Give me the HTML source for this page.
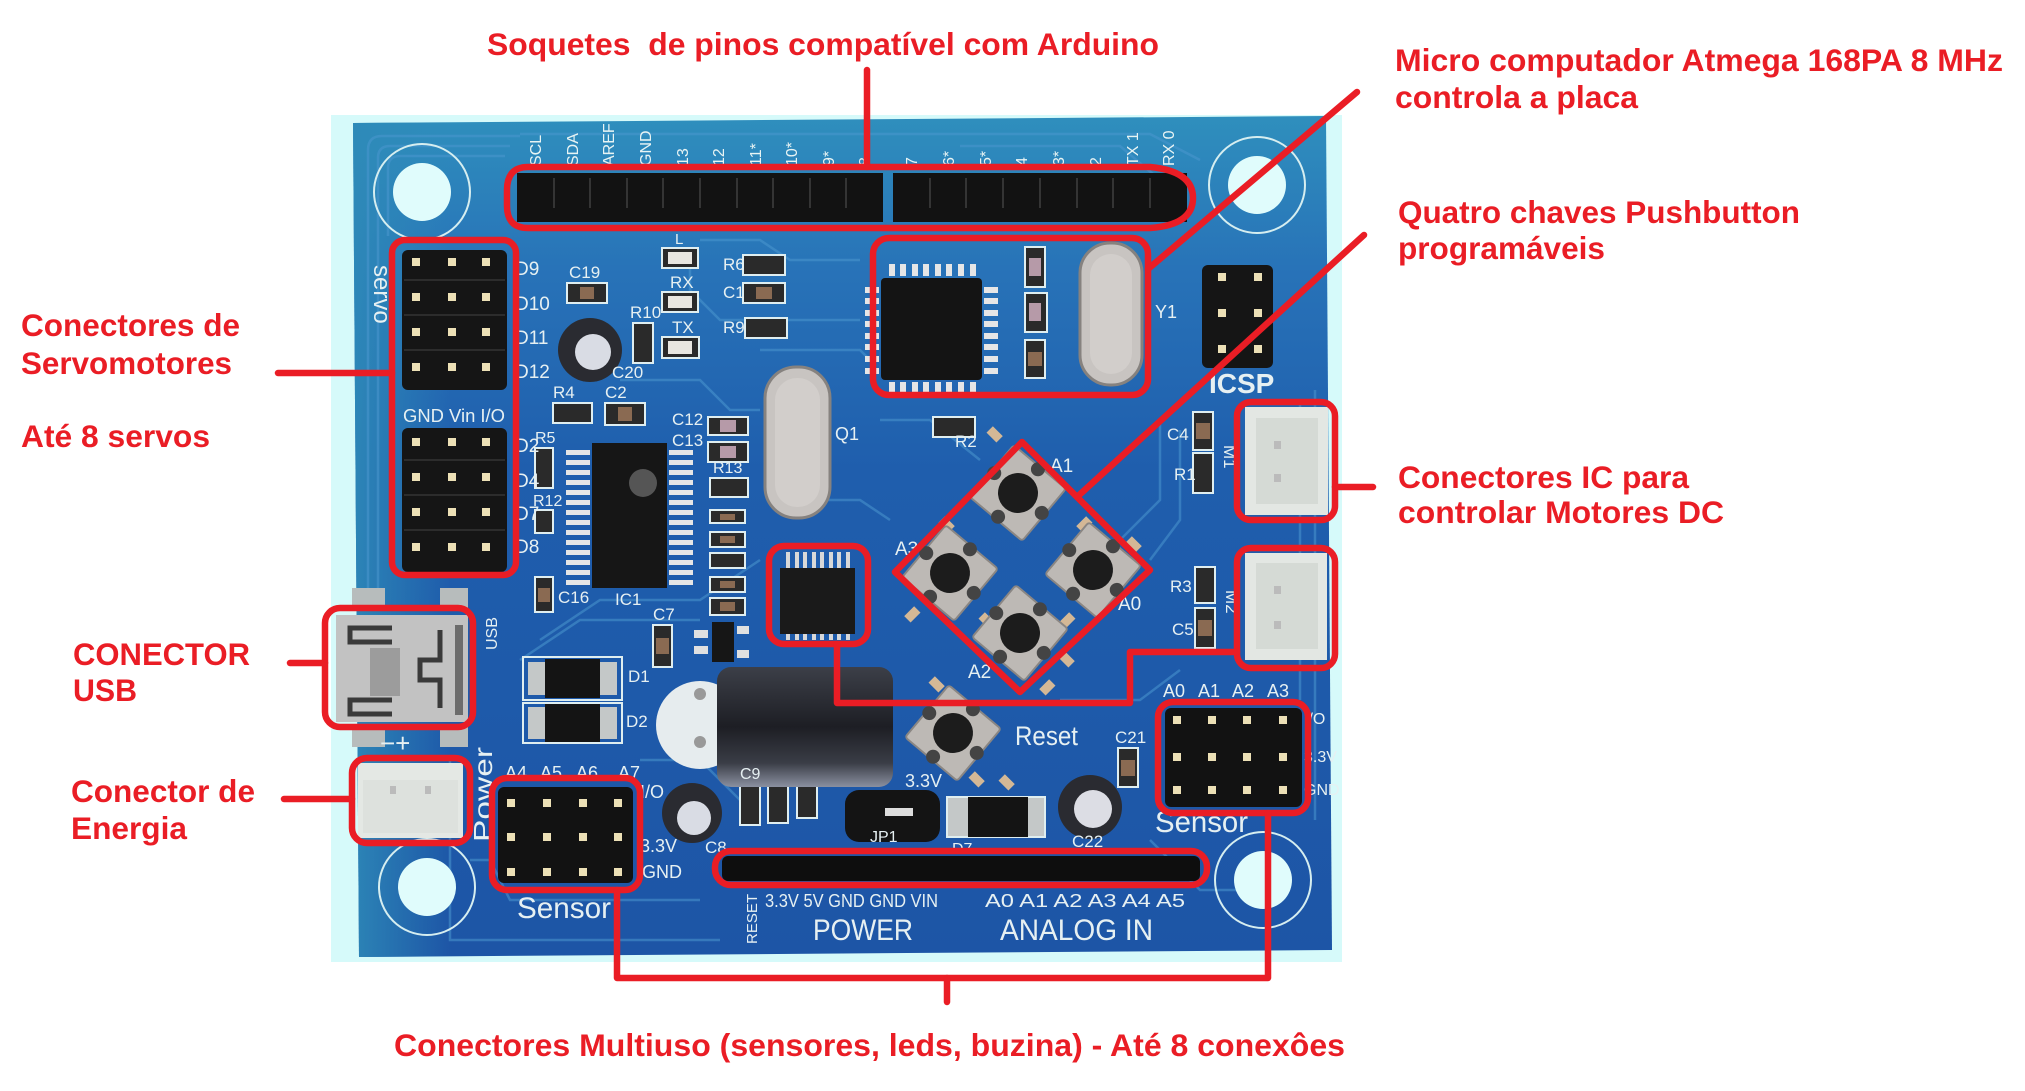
<!DOCTYPE html>
<html><head><meta charset="utf-8"><style>
html,body{margin:0;padding:0;background:#fff;}
svg{display:block;}
</style></head><body>
<svg width="2025" height="1091" viewBox="0 0 2025 1091" xmlns="http://www.w3.org/2000/svg">
<defs>
<linearGradient id="bv" x1="0" y1="0" x2="0" y2="1">
 <stop offset="0" stop-color="#2f8fbd"/>
 <stop offset="0.18" stop-color="#2873b8"/>
 <stop offset="0.42" stop-color="#1f5ead"/>
 <stop offset="1" stop-color="#1d55a6"/>
</linearGradient>
<linearGradient id="bh" x1="0" y1="0" x2="1" y2="0">
 <stop offset="0" stop-color="#2e8ab8" stop-opacity="0.9"/>
 <stop offset="0.1" stop-color="#2e8ab8" stop-opacity="0"/>
</linearGradient>
<linearGradient id="cap" x1="0" y1="0" x2="0" y2="1">
 <stop offset="0" stop-color="#3c3f48"/>
 <stop offset="0.5" stop-color="#1d1e24"/>
 <stop offset="0.8" stop-color="#3a3d46"/>
 <stop offset="1" stop-color="#8a90a0"/>
</linearGradient>
</defs>
<rect width="2025" height="1091" fill="#fff"/>
<rect x="331" y="115" width="1011" height="847" fill="#d6fafa"/>
<polygon points="353,123 1326,116 1332,950 359,957" fill="url(#bv)"/>
<polygon points="353,123 1326,116 1332,950 359,957" fill="url(#bh)"/>

<!-- traces -->
<g fill="none" stroke="#4b97cf" stroke-width="2.5" opacity="0.55">
<path d="M368 600 V150 Q368 136 382 136 H520"/>
<path d="M378 600 V158 Q378 146 390 146 H510"/>
<path d="M388 236 V168 Q388 156 400 156 H505"/>
<path d="M520 134 H1150 L1200 160"/>
<path d="M960 146 H1120 L1160 180"/>
<path d="M700 240 H760 L790 260 H860"/>
<path d="M690 255 V290 L720 320 H860"/>
<path d="M760 350 H860 L875 365"/>
<path d="M620 380 H700 L730 410 H760"/>
<path d="M540 640 L600 600 H700 L760 560"/>
<path d="M520 660 L580 620 H700"/>
<path d="M1160 420 V500 L1120 540"/>
<path d="M1180 430 V520 L1150 560"/>
<path d="M880 420 H930 L980 460"/>
<path d="M1060 700 H1140 L1180 670"/>
<path d="M890 520 L860 500 H800"/>
<path d="M640 760 H700 L740 800"/>
<path d="M1150 840 L1200 890 H1240"/>
<path d="M1300 400 V700"/>
<path d="M1315 390 V820"/>
<path d="M470 860 H490 L510 900 H700"/>
<path d="M450 760 V940 H720"/>
</g>

<!-- mounting holes -->
<g>
<circle cx="422" cy="192" r="48" fill="none" stroke="#d6eef0" stroke-width="2"/>
<circle cx="422" cy="192" r="29" fill="#e0fcfc"/>
<circle cx="1257" cy="185" r="48" fill="none" stroke="#d6eef0" stroke-width="2"/>
<circle cx="1257" cy="185" r="29" fill="#e0fcfc"/>
<circle cx="427" cy="887" r="48" fill="none" stroke="#d6eef0" stroke-width="2"/>
<circle cx="427" cy="887" r="29" fill="#e0fcfc"/>
<circle cx="1263" cy="880" r="48" fill="none" stroke="#d6eef0" stroke-width="2"/>
<circle cx="1263" cy="880" r="29" fill="#e0fcfc"/>
</g>

<!-- top header -->
<rect x="517" y="173" width="366" height="49" fill="#121212"/>
<rect x="893" y="173" width="294" height="49" fill="#121212"/>
<g stroke="#343434" stroke-width="2">
<path d="M554 178V208M590 178V208M627 178V208M663 178V208M700 178V208M737 178V208M773 178V208M810 178V208M846 178V208"/>
<path d="M930 178V208M966 178V208M1003 178V208M1040 178V208M1077 178V208M1113 178V208M1150 178V208"/>
</g>
<g fill="#e8f4f4" font-family="Liberation Sans, sans-serif" font-size="16">
<text transform="translate(541,166) rotate(-90)">SCL</text>
<text transform="translate(578,166) rotate(-90)">SDA</text>
<text transform="translate(614,166) rotate(-90)">AREF</text>
<text transform="translate(651,166) rotate(-90)">GND</text>
<text transform="translate(688,166) rotate(-90)">13</text>
<text transform="translate(724,166) rotate(-90)">12</text>
<text transform="translate(761,166) rotate(-90)">11*</text>
<text transform="translate(797,166) rotate(-90)">10*</text>
<text transform="translate(834,166) rotate(-90)">9*</text>
<text transform="translate(870,166) rotate(-90)">8</text>
<text transform="translate(917,166) rotate(-90)">7</text>
<text transform="translate(954,166) rotate(-90)">6*</text>
<text transform="translate(991,166) rotate(-90)">5*</text>
<text transform="translate(1027,166) rotate(-90)">4</text>
<text transform="translate(1064,166) rotate(-90)">3*</text>
<text transform="translate(1101,166) rotate(-90)">2</text>
<text transform="translate(1138,166) rotate(-90)">TX 1</text>
<text transform="translate(1174,166) rotate(-90)">RX 0</text>
</g>

<!-- servo headers -->
<rect x="402" y="250" width="105" height="140" rx="6" fill="#151515"/>
<rect x="402" y="428" width="105" height="144" rx="6" fill="#151515"/>
<g stroke="#2c2c2c" stroke-width="2"><path d="M404 280H505M404 315H505M404 350H505M404 460H505M404 495H505M404 530H505"/></g>
<g fill="#ece0b6">
<rect x="412" y="258" width="8" height="8"/><rect x="448" y="258" width="8" height="8"/><rect x="482" y="258" width="8" height="8"/>
<rect x="412" y="293" width="8" height="8"/><rect x="448" y="293" width="8" height="8"/><rect x="482" y="293" width="8" height="8"/>
<rect x="412" y="328" width="8" height="8"/><rect x="448" y="328" width="8" height="8"/><rect x="482" y="328" width="8" height="8"/>
<rect x="412" y="363" width="8" height="8"/><rect x="448" y="363" width="8" height="8"/><rect x="482" y="363" width="8" height="8"/>
<rect x="412" y="438" width="8" height="8"/><rect x="448" y="438" width="8" height="8"/><rect x="482" y="438" width="8" height="8"/>
<rect x="412" y="473" width="8" height="8"/><rect x="448" y="473" width="8" height="8"/><rect x="482" y="473" width="8" height="8"/>
<rect x="412" y="508" width="8" height="8"/><rect x="448" y="508" width="8" height="8"/><rect x="482" y="508" width="8" height="8"/>
<rect x="412" y="543" width="8" height="8"/><rect x="448" y="543" width="8" height="8"/><rect x="482" y="543" width="8" height="8"/>
</g>

<!-- small SMD parts -->
<g stroke="#dfeef0" stroke-width="2" fill="#2a2a2a">
<rect x="567" y="283" width="40" height="20"/>
<rect x="662" y="248" width="36" height="20"/>
<rect x="662" y="292" width="36" height="20"/>
<rect x="662" y="337" width="37" height="21"/>
<rect x="743" y="255" width="42" height="20"/>
<rect x="743" y="283" width="42" height="20"/>
<rect x="745" y="318" width="42" height="20"/>
<rect x="633" y="323" width="20" height="40"/>
<rect x="553" y="403" width="39" height="20"/>
<rect x="605" y="403" width="40" height="22"/>
<rect x="708" y="417" width="40" height="18"/>
<rect x="708" y="442" width="40" height="20"/>
<rect x="710" y="478" width="38" height="19"/>
<rect x="535" y="448" width="18" height="40"/>
<rect x="535" y="510" width="18" height="23"/>
<rect x="710" y="510" width="35" height="13"/>
<rect x="710" y="532" width="35" height="15"/>
<rect x="710" y="553" width="35" height="15"/>
<rect x="710" y="577" width="35" height="15"/>
<rect x="710" y="598" width="35" height="17"/>
<rect x="653" y="625" width="19" height="42"/>
<rect x="535" y="577" width="18" height="35"/>
<rect x="1025" y="247" width="20" height="40"/>
<rect x="1025" y="293" width="22" height="39"/>
<rect x="1025" y="340" width="20" height="38"/>
<rect x="933" y="417" width="42" height="20"/>
<rect x="1193" y="412" width="20" height="38"/>
<rect x="1193" y="453" width="20" height="40"/>
<rect x="1195" y="567" width="20" height="36"/>
<rect x="1195" y="608" width="20" height="40"/>
<rect x="1118" y="748" width="20" height="39"/>
<rect x="740" y="783" width="20" height="42"/>
<rect x="768" y="783" width="20" height="40"/>
<rect x="797" y="783" width="20" height="35"/>
</g>
<g fill="#8a6a52">
<rect x="580" y="287" width="14" height="12"/><rect x="618" y="407" width="14" height="14"/>
<rect x="756" y="287" width="16" height="12"/><rect x="720" y="514" width="15" height="6"/>
<rect x="720" y="536" width="15" height="7"/><rect x="720" y="581" width="15" height="7"/>
<rect x="720" y="602" width="15" height="9"/><rect x="656" y="638" width="13" height="16"/>
<rect x="538" y="588" width="12" height="14"/><rect x="1028" y="352" width="14" height="14"/>
<rect x="1196" y="423" width="14" height="16"/><rect x="1198" y="620" width="14" height="16"/>
<rect x="1121" y="760" width="14" height="16"/><rect x="578" y="286" width="0" height="0"/>
</g>
<g fill="#b69aa8"><rect x="720" y="420" width="16" height="12"/><rect x="720" y="446" width="16" height="12"/><rect x="1029" y="258" width="12" height="18"/><rect x="1029" y="303" width="12" height="18"/></g>
<g fill="#e8e6e0"><rect x="668" y="252" width="24" height="12"/><rect x="668" y="296" width="24" height="12"/><rect x="668" y="341" width="24" height="13"/></g>

<!-- C20, C8, C22 electrolytics -->
<circle cx="590" cy="350" r="32" fill="#2a2b31"/><circle cx="593" cy="352" r="18" fill="#d9dce4"/>
<circle cx="692" cy="813" r="30" fill="#2a2b31"/><circle cx="694" cy="818" r="17" fill="#d9dce4"/>
<circle cx="1090" cy="807" r="32" fill="#2a2b31"/><circle cx="1093" cy="809" r="19" fill="#dcdde4"/>

<!-- IC1 -->
<rect x="592" y="443" width="75" height="145" fill="#161616"/>
<g fill="#e6e6e6">
<rect x="566" y="450" width="24" height="5"/><rect x="566" y="460" width="24" height="5"/><rect x="566" y="470" width="24" height="5"/><rect x="566" y="480" width="24" height="5"/><rect x="566" y="490" width="24" height="5"/><rect x="566" y="500" width="24" height="5"/><rect x="566" y="510" width="24" height="5"/><rect x="566" y="520" width="24" height="5"/><rect x="566" y="530" width="24" height="5"/><rect x="566" y="540" width="24" height="5"/><rect x="566" y="550" width="24" height="5"/><rect x="566" y="560" width="24" height="5"/><rect x="566" y="570" width="24" height="5"/><rect x="566" y="580" width="24" height="5"/>
<rect x="669" y="450" width="24" height="5"/><rect x="669" y="460" width="24" height="5"/><rect x="669" y="470" width="24" height="5"/><rect x="669" y="480" width="24" height="5"/><rect x="669" y="490" width="24" height="5"/><rect x="669" y="500" width="24" height="5"/><rect x="669" y="510" width="24" height="5"/><rect x="669" y="520" width="24" height="5"/><rect x="669" y="530" width="24" height="5"/><rect x="669" y="540" width="24" height="5"/><rect x="669" y="550" width="24" height="5"/><rect x="669" y="560" width="24" height="5"/><rect x="669" y="570" width="24" height="5"/><rect x="669" y="580" width="24" height="5"/>
</g>
<circle cx="643" cy="483" r="14" fill="#555"/>

<!-- crystals -->
<rect x="765" y="367" width="65" height="151" rx="31" fill="#c8c4c1" stroke="#86827f" stroke-width="3"/>
<rect x="775" y="378" width="45" height="129" rx="22" fill="#d2cecb"/>
<rect x="1080" y="243" width="62" height="142" rx="30" fill="#c8c4c1" stroke="#86827f" stroke-width="3"/>
<rect x="1090" y="254" width="42" height="120" rx="21" fill="#d2cecb"/>

<!-- Atmega -->
<rect x="881" y="278" width="101" height="102" rx="4" fill="#141414"/>
<g fill="#e6e6e6">
<rect x="889" y="264" width="6" height="12"/><rect x="900" y="264" width="6" height="12"/><rect x="912" y="264" width="6" height="12"/><rect x="923" y="264" width="6" height="12"/><rect x="935" y="264" width="6" height="12"/><rect x="946" y="264" width="6" height="12"/><rect x="958" y="264" width="6" height="12"/><rect x="970" y="264" width="6" height="12"/>
<rect x="889" y="382" width="6" height="12"/><rect x="900" y="382" width="6" height="12"/><rect x="912" y="382" width="6" height="12"/><rect x="923" y="382" width="6" height="12"/><rect x="935" y="382" width="6" height="12"/><rect x="946" y="382" width="6" height="12"/><rect x="958" y="382" width="6" height="12"/><rect x="970" y="382" width="6" height="12"/>
<rect x="865" y="287" width="14" height="6"/><rect x="865" y="298" width="14" height="6"/><rect x="865" y="310" width="14" height="6"/><rect x="865" y="321" width="14" height="6"/><rect x="865" y="333" width="14" height="6"/><rect x="865" y="344" width="14" height="6"/><rect x="865" y="356" width="14" height="6"/><rect x="865" y="368" width="14" height="6"/>
<rect x="984" y="287" width="14" height="6"/><rect x="984" y="298" width="14" height="6"/><rect x="984" y="310" width="14" height="6"/><rect x="984" y="321" width="14" height="6"/><rect x="984" y="333" width="14" height="6"/><rect x="984" y="344" width="14" height="6"/><rect x="984" y="356" width="14" height="6"/><rect x="984" y="368" width="14" height="6"/>
</g>

<!-- ICSP -->
<rect x="1202" y="265" width="71" height="103" rx="6" fill="#151515"/>
<g fill="#ece0b6"><rect x="1218" y="273" width="8" height="8"/><rect x="1254" y="273" width="8" height="8"/><rect x="1218" y="309" width="8" height="8"/><rect x="1254" y="309" width="8" height="8"/><rect x="1218" y="345" width="8" height="8"/><rect x="1254" y="345" width="8" height="8"/></g>

<!-- 52G chip -->
<rect x="780" y="568" width="75" height="66" fill="#1a1a1a"/>
<g fill="#d8d8d8"><rect x="786" y="552" width="4" height="16"/><rect x="795" y="552" width="4" height="16"/><rect x="803" y="552" width="4" height="16"/><rect x="812" y="552" width="4" height="16"/><rect x="820" y="552" width="4" height="16"/><rect x="829" y="552" width="4" height="16"/><rect x="837" y="552" width="4" height="16"/><rect x="846" y="552" width="4" height="16"/>
<rect x="786" y="634" width="4" height="6"/><rect x="795" y="634" width="4" height="6"/><rect x="803" y="634" width="4" height="6"/><rect x="812" y="634" width="4" height="6"/><rect x="820" y="634" width="4" height="6"/><rect x="829" y="634" width="4" height="6"/><rect x="837" y="634" width="4" height="6"/><rect x="846" y="634" width="4" height="6"/></g>

<!-- small IC near C7 -->
<rect x="712" y="622" width="22" height="40" fill="#161616"/>
<g fill="#e0e0e0"><rect x="694" y="630" width="14" height="8"/><rect x="694" y="646" width="14" height="8"/><rect x="737" y="626" width="12" height="8"/><rect x="737" y="650" width="12" height="8"/></g>

<!-- D1 D2 -->
<rect x="523" y="657" width="99" height="43" fill="none" stroke="#dfeef0" stroke-width="2"/>
<rect x="523" y="703" width="99" height="40" fill="none" stroke="#dfeef0" stroke-width="2"/>
<rect x="528" y="662" width="89" height="33" fill="#c4c8c8"/><rect x="528" y="707" width="89" height="32" fill="#c4c8c8"/>
<rect x="545" y="659" width="55" height="39" fill="#141414"/><rect x="545" y="704" width="55" height="38" fill="#141414"/>

<!-- big electrolytic cap -->
<circle cx="700" cy="725" r="44" fill="#e6ecee"/>
<circle cx="700" cy="694" r="6" fill="#999"/><circle cx="700" cy="742" r="6" fill="#999"/>
<rect x="717" y="667" width="176" height="120" rx="14" fill="url(#cap)"/>

<!-- USB -->
<g fill="#b7bcbc"><rect x="352" y="588" width="33" height="22"/><rect x="440" y="588" width="28" height="22"/><rect x="352" y="727" width="33" height="20"/><rect x="440" y="727" width="28" height="20"/></g>
<rect x="336" y="615" width="132" height="107" fill="#c2c2c2"/>
<g fill="none" stroke="#3a3a3a" stroke-width="5">
<path d="M392 628H350V642H392"/><path d="M392 700H350V714H392"/>
<path d="M440 630V660H420V680H440V708"/>
</g>
<rect x="370" y="648" width="30" height="48" fill="#9c9c9c"/>
<g fill="#6c6c6c"><rect x="455" y="625" width="8" height="90"/></g>

<!-- power connector -->
<rect x="358" y="763" width="105" height="75" fill="#e4e8e4"/>
<rect x="363" y="780" width="95" height="53" fill="#dde1dd"/>
<rect x="390" y="786" width="6" height="8" fill="#bbb"/><rect x="425" y="786" width="6" height="8" fill="#bbb"/>

<!-- left sensor header -->
<rect x="498" y="787" width="135" height="96" rx="6" fill="#121212"/>
<g fill="#ece0b6">
<rect x="507" y="799" width="8" height="8"/><rect x="543" y="799" width="8" height="8"/><rect x="579" y="799" width="8" height="8"/><rect x="614" y="799" width="8" height="8"/>
<rect x="507" y="833" width="8" height="8"/><rect x="543" y="833" width="8" height="8"/><rect x="579" y="833" width="8" height="8"/><rect x="614" y="833" width="8" height="8"/>
<rect x="507" y="868" width="8" height="8"/><rect x="543" y="868" width="8" height="8"/><rect x="579" y="868" width="8" height="8"/><rect x="614" y="868" width="8" height="8"/>
</g>

<!-- right sensor header -->
<rect x="1165" y="708" width="137" height="99" rx="6" fill="#121212"/>
<g fill="#ece0b6">
<rect x="1173" y="716" width="8" height="8"/><rect x="1208" y="716" width="8" height="8"/><rect x="1243" y="716" width="8" height="8"/><rect x="1279" y="716" width="8" height="8"/>
<rect x="1173" y="753" width="8" height="8"/><rect x="1208" y="753" width="8" height="8"/><rect x="1243" y="753" width="8" height="8"/><rect x="1279" y="753" width="8" height="8"/>
<rect x="1173" y="786" width="8" height="8"/><rect x="1208" y="786" width="8" height="8"/><rect x="1243" y="786" width="8" height="8"/><rect x="1279" y="786" width="8" height="8"/>
</g>

<!-- JP1, D7 -->
<rect x="845" y="790" width="95" height="52" rx="14" fill="#141414"/>
<rect x="885" y="808" width="28" height="8" fill="#ddd"/>
<rect x="947" y="797" width="98" height="40" fill="#c4c8c8" stroke="#dfeef0" stroke-width="2"/>
<rect x="968" y="797" width="60" height="40" fill="#141414"/>

<!-- M1 M2 -->
<rect x="1245" y="407" width="83" height="108" fill="#e3e7e3"/>
<rect x="1256" y="418" width="62" height="86" fill="#d5dad5"/>
<rect x="1274" y="441" width="7" height="8" fill="#bbb"/><rect x="1274" y="474" width="7" height="8" fill="#bbb"/>
<rect x="1245" y="553" width="82" height="107" fill="#e3e7e3"/>
<rect x="1256" y="563" width="62" height="86" fill="#d5dad5"/>
<rect x="1274" y="586" width="7" height="8" fill="#bbb"/><rect x="1274" y="621" width="7" height="8" fill="#bbb"/>

<!-- power/analog header -->
<rect x="722" y="856" width="478" height="25" rx="6" fill="#0e0e0e"/>

<!-- buttons -->
<g fill="#d4b896">
<rect x="988" y="430" width="14" height="9" transform="rotate(45 995 434)"/>
<rect x="940" y="520" width="14" height="9" transform="rotate(45 947 524)"/>
<rect x="1077" y="520" width="14" height="9" transform="rotate(-45 1084 524)"/>
<rect x="1127" y="540" width="14" height="9" transform="rotate(45 1134 544)"/>
<rect x="905" y="610" width="14" height="9" transform="rotate(-45 912 614)"/>
<rect x="980" y="616" width="14" height="9" transform="rotate(45 987 620)"/>
<rect x="1060" y="616" width="14" height="9" transform="rotate(-45 1067 620)"/>
<rect x="1060" y="655" width="14" height="9" transform="rotate(45 1067 659)"/>
<rect x="1040" y="683" width="14" height="9" transform="rotate(-45 1047 687)"/>
<rect x="930" y="680" width="14" height="9" transform="rotate(45 937 684)"/>
<rect x="1000" y="778" width="14" height="9" transform="rotate(45 1007 782)"/>
<rect x="970" y="775" width="14" height="9" transform="rotate(45 977 779)"/>
</g>
<g id="btns">
<g transform="translate(1018,493) rotate(40)"><rect x="-34" y="-34" width="68" height="68" rx="3" fill="#bdb9b5" stroke="#8a8683" stroke-width="2"/><circle r="20" fill="#1c1c1c"/><circle cx="0" cy="-31" r="7" fill="#444"/><circle cx="0" cy="31" r="7" fill="#444"/><circle cx="-31" cy="0" r="7" fill="#444"/><circle cx="31" cy="0" r="7" fill="#444"/></g>
<g transform="translate(950,573) rotate(40)"><rect x="-34" y="-34" width="68" height="68" rx="3" fill="#bdb9b5" stroke="#8a8683" stroke-width="2"/><circle r="20" fill="#1c1c1c"/><circle cx="0" cy="-31" r="7" fill="#444"/><circle cx="0" cy="31" r="7" fill="#444"/><circle cx="-31" cy="0" r="7" fill="#444"/><circle cx="31" cy="0" r="7" fill="#444"/></g>
<g transform="translate(1093,570) rotate(40)"><rect x="-34" y="-34" width="68" height="68" rx="3" fill="#bdb9b5" stroke="#8a8683" stroke-width="2"/><circle r="20" fill="#1c1c1c"/><circle cx="0" cy="-31" r="7" fill="#444"/><circle cx="0" cy="31" r="7" fill="#444"/><circle cx="-31" cy="0" r="7" fill="#444"/><circle cx="31" cy="0" r="7" fill="#444"/></g>
<g transform="translate(1020,633) rotate(40)"><rect x="-34" y="-34" width="68" height="68" rx="3" fill="#bdb9b5" stroke="#8a8683" stroke-width="2"/><circle r="20" fill="#1c1c1c"/><circle cx="0" cy="-31" r="7" fill="#444"/><circle cx="0" cy="31" r="7" fill="#444"/><circle cx="-31" cy="0" r="7" fill="#444"/><circle cx="31" cy="0" r="7" fill="#444"/></g>
<g transform="translate(953,733) rotate(40)"><rect x="-34" y="-34" width="68" height="68" rx="3" fill="#bdb9b5" stroke="#8a8683" stroke-width="2"/><circle r="20" fill="#1c1c1c"/><circle cx="0" cy="-31" r="7" fill="#444"/><circle cx="0" cy="31" r="7" fill="#444"/><circle cx="-31" cy="0" r="7" fill="#444"/><circle cx="31" cy="0" r="7" fill="#444"/></g>
</g>

<!-- board silkscreen labels -->
<g fill="#e6f0f2" font-family="Liberation Sans, sans-serif">
<text transform="translate(374,265) rotate(90)" font-size="24">servo</text>
<text x="403" y="422" font-size="18" textLength="102" lengthAdjust="spacingAndGlyphs">GND Vin I/O</text>
<text x="515" y="275" font-size="19">D9</text>
<text x="515" y="310" font-size="19">D10</text>
<text x="515" y="344" font-size="19">D11</text>
<text x="515" y="378" font-size="19">D12</text>
<text x="515" y="452" font-size="19">D2</text>
<text x="515" y="487" font-size="19">D4</text>
<text x="515" y="520" font-size="19">D7</text>
<text x="515" y="553" font-size="19">D8</text>
<text x="569" y="278" font-size="17">C19</text>
<text x="675" y="244" font-size="15">L</text>
<text x="670" y="288" font-size="17">RX</text>
<text x="672" y="333" font-size="17">TX</text>
<text x="723" y="270" font-size="17">R6</text>
<text x="723" y="298" font-size="17">C1</text>
<text x="723" y="333" font-size="17">R9</text>
<text x="630" y="318" font-size="17">R10</text>
<text x="612" y="378" font-size="17">C20</text>
<text x="553" y="398" font-size="17">R4</text>
<text x="605" y="398" font-size="17">C2</text>
<text x="672" y="425" font-size="17">C12</text>
<text x="672" y="446" font-size="17">C13</text>
<text x="713" y="473" font-size="16">R13</text>
<text x="535" y="443" font-size="16">R5</text>
<text x="533" y="506" font-size="16">R12</text>
<text x="558" y="603" font-size="17">C16</text>
<text x="615" y="605" font-size="17">IC1</text>
<text x="653" y="620" font-size="17">C7</text>
<text x="835" y="440" font-size="18">Q1</text>
<text x="1155" y="318" font-size="18">Y1</text>
<text x="1209" y="393" font-size="28" font-weight="bold">ICSP</text>
<text x="955" y="447" font-size="17">R2</text>
<text x="1167" y="440" font-size="17">C4</text>
<text x="1174" y="480" font-size="17">R1</text>
<text transform="translate(1224,445) rotate(90)" font-size="17">M1</text>
<text x="1170" y="592" font-size="17">R3</text>
<text x="1172" y="635" font-size="17">C5</text>
<text transform="translate(1226,590) rotate(90)" font-size="17">M2</text>
<text x="1050" y="472" font-size="19">A1</text>
<text x="895" y="555" font-size="19">A3</text>
<text x="1118" y="610" font-size="19">A0</text>
<text x="968" y="678" font-size="19">A2</text>
<text x="1015" y="745" font-size="27" textLength="63" lengthAdjust="spacingAndGlyphs">Reset</text>
<text x="905" y="787" font-size="18">3.3V</text>
<text x="1115" y="743" font-size="17">C21</text>
<text x="1072" y="847" font-size="17">C22</text>
<text x="870" y="842" font-size="16">JP1</text>
<text x="952" y="854" font-size="16">D7</text>
<text x="628" y="682" font-size="17">D1</text>
<text x="626" y="727" font-size="17">D2</text>
<text transform="translate(497,650) rotate(-90)" font-size="16">USB</text>
<text x="380" y="752" font-size="26">−+</text>
<text transform="translate(492,842) rotate(-90)" font-size="26" textLength="95" lengthAdjust="spacingAndGlyphs">Power</text>
<text x="505" y="779" font-size="18">A4</text><text x="540" y="779" font-size="18">A5</text><text x="576" y="779" font-size="18">A6</text><text x="618" y="779" font-size="18">A7</text>
<text x="640" y="798" font-size="18">I/O</text>
<text x="640" y="852" font-size="18">3.3V</text>
<text x="642" y="878" font-size="18">GND</text>
<text x="705" y="853" font-size="17">C8</text>
<text x="740" y="779" font-size="16">C9</text>
<text x="517" y="918" font-size="30" textLength="94" lengthAdjust="spacingAndGlyphs">Sensor</text>
<text x="1155" y="832" font-size="30" textLength="93" lengthAdjust="spacingAndGlyphs">Sensor</text>
<text x="1163" y="697" font-size="18">A0</text><text x="1198" y="697" font-size="18">A1</text><text x="1232" y="697" font-size="18">A2</text><text x="1267" y="697" font-size="18">A3</text>
<text x="1304" y="724" font-size="16">I/O</text>
<text x="1304" y="762" font-size="16">3.3V</text>
<text x="1304" y="795" font-size="16">GND</text>
<text transform="translate(757,944) rotate(-90)" font-size="15">RESET</text>
<text x="765" y="907" font-size="18" textLength="173" lengthAdjust="spacingAndGlyphs">3.3V 5V GND GND VIN</text>
<text x="985" y="907" font-size="18" textLength="200" lengthAdjust="spacingAndGlyphs">A0  A1  A2  A3  A4  A5</text>
<text x="813" y="940" font-size="30" textLength="100" lengthAdjust="spacingAndGlyphs">POWER</text>
<text x="1000" y="940" font-size="30" textLength="153" lengthAdjust="spacingAndGlyphs">ANALOG IN</text>
</g>

<!-- red annotations -->
<g fill="none" stroke="#ea1d25" stroke-width="6.5" stroke-linejoin="round" stroke-linecap="round">
<path d="M528 167 H1150 Q1193 171 1193 198 Q1193 225 1150 228 H528 Q507 228 507 206 V190 Q507 167 528 167 Z"/>
<path d="M867 70 V167"/>
<rect x="392" y="240" width="124" height="335" rx="13"/>
<path d="M278 373 H392"/>
<rect x="873" y="238" width="275" height="157" rx="16"/>
<path d="M1148 269 L1357 92"/>
<polygon points="1022,442 1150,570 1020,692 895,572"/>
<path d="M1077 497 L1364 235"/>
<rect x="1237" y="402" width="98" height="118" rx="14"/>
<rect x="1237" y="548" width="98" height="120" rx="14"/>
<path d="M1335 487 H1373"/>
<rect x="769" y="546" width="99" height="98" rx="15"/>
<path d="M837 644 V703 H1130 V652 H1237"/>
<rect x="325" y="608" width="148" height="119" rx="15"/>
<path d="M290 663 H325"/>
<rect x="352" y="758" width="118" height="85" rx="15"/>
<path d="M284 799 H352"/>
<rect x="492" y="778" width="148" height="112" rx="15"/>
<rect x="1158" y="702" width="150" height="111" rx="15"/>
<rect x="715" y="851" width="492" height="34" rx="16"/>
<path d="M617 890 V978 H1268 V813"/>
<path d="M947 978 V1002"/>
</g>

<!-- red text -->
<g fill="#ea1d25" font-family="Liberation Sans, sans-serif" font-weight="bold" font-size="31.5">
<text x="487" y="55" textLength="672" lengthAdjust="spacingAndGlyphs" style="white-space:pre">Soquetes  de pinos compatível com Arduino</text>
<text x="1395" y="71" textLength="608" lengthAdjust="spacingAndGlyphs">Micro computador Atmega 168PA 8 MHz</text>
<text x="1395" y="108" textLength="243" lengthAdjust="spacingAndGlyphs">controla a placa</text>
<text x="1398" y="223" textLength="402" lengthAdjust="spacingAndGlyphs">Quatro chaves Pushbutton</text>
<text x="1398" y="259" textLength="207" lengthAdjust="spacingAndGlyphs">programáveis</text>
<text x="1398" y="488" textLength="291" lengthAdjust="spacingAndGlyphs">Conectores IC para</text>
<text x="1398" y="523" textLength="326" lengthAdjust="spacingAndGlyphs">controlar Motores DC</text>
<text x="21" y="336" textLength="219" lengthAdjust="spacingAndGlyphs">Conectores de</text>
<text x="21" y="374" textLength="211" lengthAdjust="spacingAndGlyphs">Servomotores</text>
<text x="21" y="447" textLength="189" lengthAdjust="spacingAndGlyphs">Até 8 servos</text>
<text x="73" y="665" textLength="177" lengthAdjust="spacingAndGlyphs">CONECTOR</text>
<text x="73" y="701" textLength="64" lengthAdjust="spacingAndGlyphs">USB</text>
<text x="71" y="802" textLength="184" lengthAdjust="spacingAndGlyphs">Conector de</text>
<text x="71" y="839" textLength="116" lengthAdjust="spacingAndGlyphs">Energia</text>
<text x="394" y="1056" textLength="951" lengthAdjust="spacingAndGlyphs">Conectores Multiuso (sensores, leds, buzina) - Até 8 conexôes</text>
</g>
</svg>
</body></html>
